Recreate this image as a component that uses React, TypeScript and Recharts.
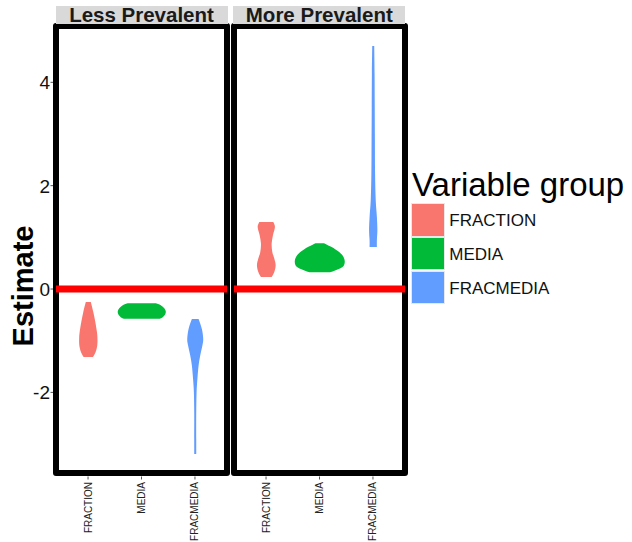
import React from 'react';
import { Bar, ComposedChart, ReferenceLine, XAxis, YAxis } from 'recharts';

const categories = ['FRACTION', 'MEDIA', 'FRACMEDIA'];
const panelTitles = ['Less Prevalent', 'More Prevalent'];
const yTicks = [-2, 0, 2, 4];
const yDomain: [number, number] = [-3.56, 5.08];
const legendTitle = 'Variable group';

// violin outlines, top to bottom: [estimate, width relative to the widest violin]
const lessFraction: [number, number][] = [
  [-0.25, 0.104], [-0.443, 0.208], [-0.637, 0.292], [-0.831, 0.36],
  [-0.958, 0.381], [-1.088, 0.375], [-1.218, 0.306], [-1.315, 0.194],
];
const lessMedia: [number, number][] = [
  [-0.275, 0.583], [-0.313, 0.792], [-0.372, 0.938], [-0.43, 1.0],
  [-0.488, 0.979], [-0.546, 0.875], [-0.575, 0.75],
];
const lessFracmedia: [number, number][] = [
  [-0.579, 0.14], [-0.772, 0.277], [-0.966, 0.333], [-1.094, 0.298],
  [-1.288, 0.208], [-1.481, 0.14], [-1.741, 0.09], [-1.998, 0.056],
  [-2.385, 0.042], [-2.902, 0.042], [-3.193, 0.042],
];
const moreFraction: [number, number][] = [
  [1.299, 0.292], [1.202, 0.36], [1.042, 0.277], [0.881, 0.223], [0.718, 0.25],
  [0.591, 0.333], [0.461, 0.39], [0.331, 0.333], [0.234, 0.223],
];
const moreMedia: [number, number][] = [
  [0.887, 0.173], [0.823, 0.452], [0.757, 0.688], [0.66, 0.938],
  [0.544, 1.04], [0.436, 0.973], [0.37, 0.688], [0.325, 0.417],
];
const moreFracmedia: [number, number][] = [
  [4.701, 0.042], [4.172, 0.056], [3.526, 0.0625], [2.881, 0.069], [2.236, 0.077],
  [1.719, 0.104], [1.396, 0.152], [1.138, 0.173], [0.945, 0.152], [0.815, 0.152],
];

const palette = ['#F8766D', '#00BA38', '#619CFF'];
const FONT = '"Liberation Sans", Arial, sans-serif';

const PANEL_TOP = 26.5;
const PANEL_BOTTOM = 473;
const PANEL_W = 171;
const LEFT_X = 56;
const RIGHT_X = 233.8;
const BORDER = 6.5;

const buildRows = (profiles: [number, number][][]) =>
  categories.map((name, i) => {
    const vals = profiles[i].map((p) => p[0]);
    return { name, profile: profiles[i], range: [Math.min(...vals), Math.max(...vals)] };
  });

const lessData = buildRows([lessFraction, lessMedia, lessFracmedia]);
const moreData = buildRows([moreFraction, moreMedia, moreFracmedia]);

const smooth = (pts: number[][]) => {
  let d = '';
  for (let i = 0; i < pts.length - 1; i++) {
    const p0 = pts[i - 1] || pts[i];
    const p1 = pts[i];
    const p2 = pts[i + 1];
    const p3 = pts[i + 2] || p2;
    const c1 = [p1[0] + (p2[0] - p0[0]) / 6, p1[1] + (p2[1] - p0[1]) / 6];
    const c2 = [p2[0] - (p3[0] - p1[0]) / 6, p2[1] - (p3[1] - p1[1]) / 6];
    d += ` C${c1} ${c2} ${p2}`;
  }
  return d;
};

const Violin = (props: any) => {
  const { x, y, width, height, payload } = props;
  if (!payload || x == null) return null;
  const top = Math.min(y, y + height);
  const h = Math.abs(height);
  const [lo, hi] = payload.range;
  const cx = x + width / 2;
  const pts = payload.profile.map(([v, w]: [number, number]) => [
    (w * width) / 2,
    top + ((hi - v) / (hi - lo)) * h,
  ]);
  const right = pts.map(([hw, py]: number[]) => [cx + hw, py]);
  const left = pts.map(([hw, py]: number[]) => [cx - hw, py]).reverse();
  const d = `M${left[left.length - 1]} L${right[0]}${smooth(right)} L${left[0]}${smooth(left)} Z`;
  return <path d={d} fill={palette[categories.indexOf(payload.name)]} />;
};

const XTick = ({ x, y, payload }: any) => (
  <g>
    <line x1={x} x2={x} y1={y - 5.5} y2={y - 2.5} stroke="#555" strokeWidth={1} />
    <text
      x={x}
      y={y}
      transform={`rotate(-90 ${x} ${y})`}
      textAnchor="end"
      dy="0.35em"
      fontSize={10}
      fontFamily={FONT}
      fill="#222"
    >
      {payload.value}
    </text>
  </g>
);

const YTick = ({ x, y, payload }: any) => (
  <g>
    <line x1={x + 0.5} x2={x + 3} y1={y} y2={y} stroke="#555" strokeWidth={1} />
    <text x={x} y={y} textAnchor="end" dy="0.36em" fontSize={19} fontFamily={FONT} fill="#111">
      {payload.value}
    </text>
  </g>
);

const EstimateLabel = () => (
  <text
    x={23}
    y={286}
    transform="rotate(-90 23 286)"
    textAnchor="middle"
    dominantBaseline="central"
    fontSize={29}
    fontWeight="bold"
    fontFamily={FONT}
    fill="#000"
  >
    Estimate
  </text>
);

const Panel = ({ data, showY }: { data: any[]; showY: boolean }) => (
  <ComposedChart
    width={showY ? LEFT_X + PANEL_W + 5 : PANEL_W + 10}
    height={542}
    data={data}
    margin={{ top: PANEL_TOP, right: 5, left: showY ? 0 : 5, bottom: 0 }}
  >
    <XAxis
      dataKey="name"
      interval={0}
      height={542 - PANEL_BOTTOM}
      axisLine={false}
      tickLine={false}
      tickSize={6}
      tickMargin={3}
      padding={{ left: 5.3, right: 5.3 }}
      tick={<XTick />}
    />
    <YAxis
      hide={!showY}
      width={LEFT_X}
      type="number"
      domain={yDomain}
      ticks={yTicks}
      allowDataOverflow
      axisLine={false}
      tickLine={false}
      tickSize={6}
      tickMargin={0}
      tick={<YTick />}
      label={showY ? <EstimateLabel /> : undefined}
    />
    <Bar dataKey="range" barSize={48} shape={Violin} isAnimationActive={false} />
    <ReferenceLine y={0} stroke="#FF0000" strokeWidth={7} />
  </ComposedChart>
);

const panelBox = (left: number): React.CSSProperties => ({
  position: 'absolute',
  left: left - BORDER / 2,
  top: PANEL_TOP - BORDER / 2,
  width: PANEL_W + BORDER,
  height: PANEL_BOTTOM - PANEL_TOP + BORDER,
  border: `${BORDER}px solid #000`,
  borderRadius: 3,
  boxSizing: 'border-box',
});

const stripBox = (left: number): React.CSSProperties => ({
  position: 'absolute',
  left: left - 0.5,
  top: 6,
  width: PANEL_W + 1,
  height: 17.5,
  lineHeight: '17.5px',
  background: '#D9D9D9',
  color: '#1A1A1A',
  fontWeight: 'bold',
  fontSize: 20.5,
  textAlign: 'center',
  whiteSpace: 'nowrap',
});

export default function App() {
  return (
    <div
      style={{
        position: 'absolute',
        left: 0,
        top: 0,
        width: 632,
        height: 542,
        background: '#fff',
        fontFamily: FONT,
        overflow: 'hidden',
      }}
    >
      <div style={panelBox(LEFT_X)} />
      <div style={panelBox(RIGHT_X)} />
      <div style={{ position: 'absolute', left: 0, top: 0 }}>
        <Panel data={lessData} showY />
      </div>
      <div style={{ position: 'absolute', left: RIGHT_X - 5, top: 0 }}>
        <Panel data={moreData} showY={false} />
      </div>
      <div style={stripBox(LEFT_X)}>{panelTitles[0]}</div>
      <div style={stripBox(RIGHT_X)}>{panelTitles[1]}</div>

      <div
        style={{
          position: 'absolute',
          left: 412,
          top: 168,
          fontSize: 33,
          lineHeight: '33px',
          color: '#000',
          whiteSpace: 'nowrap',
        }}
      >
        {legendTitle}
      </div>
      {categories.map((name, i) => (
        <React.Fragment key={name}>
          <div
            style={{
              position: 'absolute',
              left: 411,
              top: 203.3 + i * 33.6,
              width: 33.5,
              height: 33.6,
              background: palette[i],
              border: '1px solid #e8e8e8',
              boxSizing: 'border-box',
            }}
          />
          <div
            style={{
              position: 'absolute',
              left: 449.3,
              top: 204.3 + i * 33.6,
              height: 33.6,
              lineHeight: '33.6px',
              fontSize: 17,
              color: '#111',
              whiteSpace: 'nowrap',
            }}
          >
            {name}
          </div>
        </React.Fragment>
      ))}
    </div>
  );
}
